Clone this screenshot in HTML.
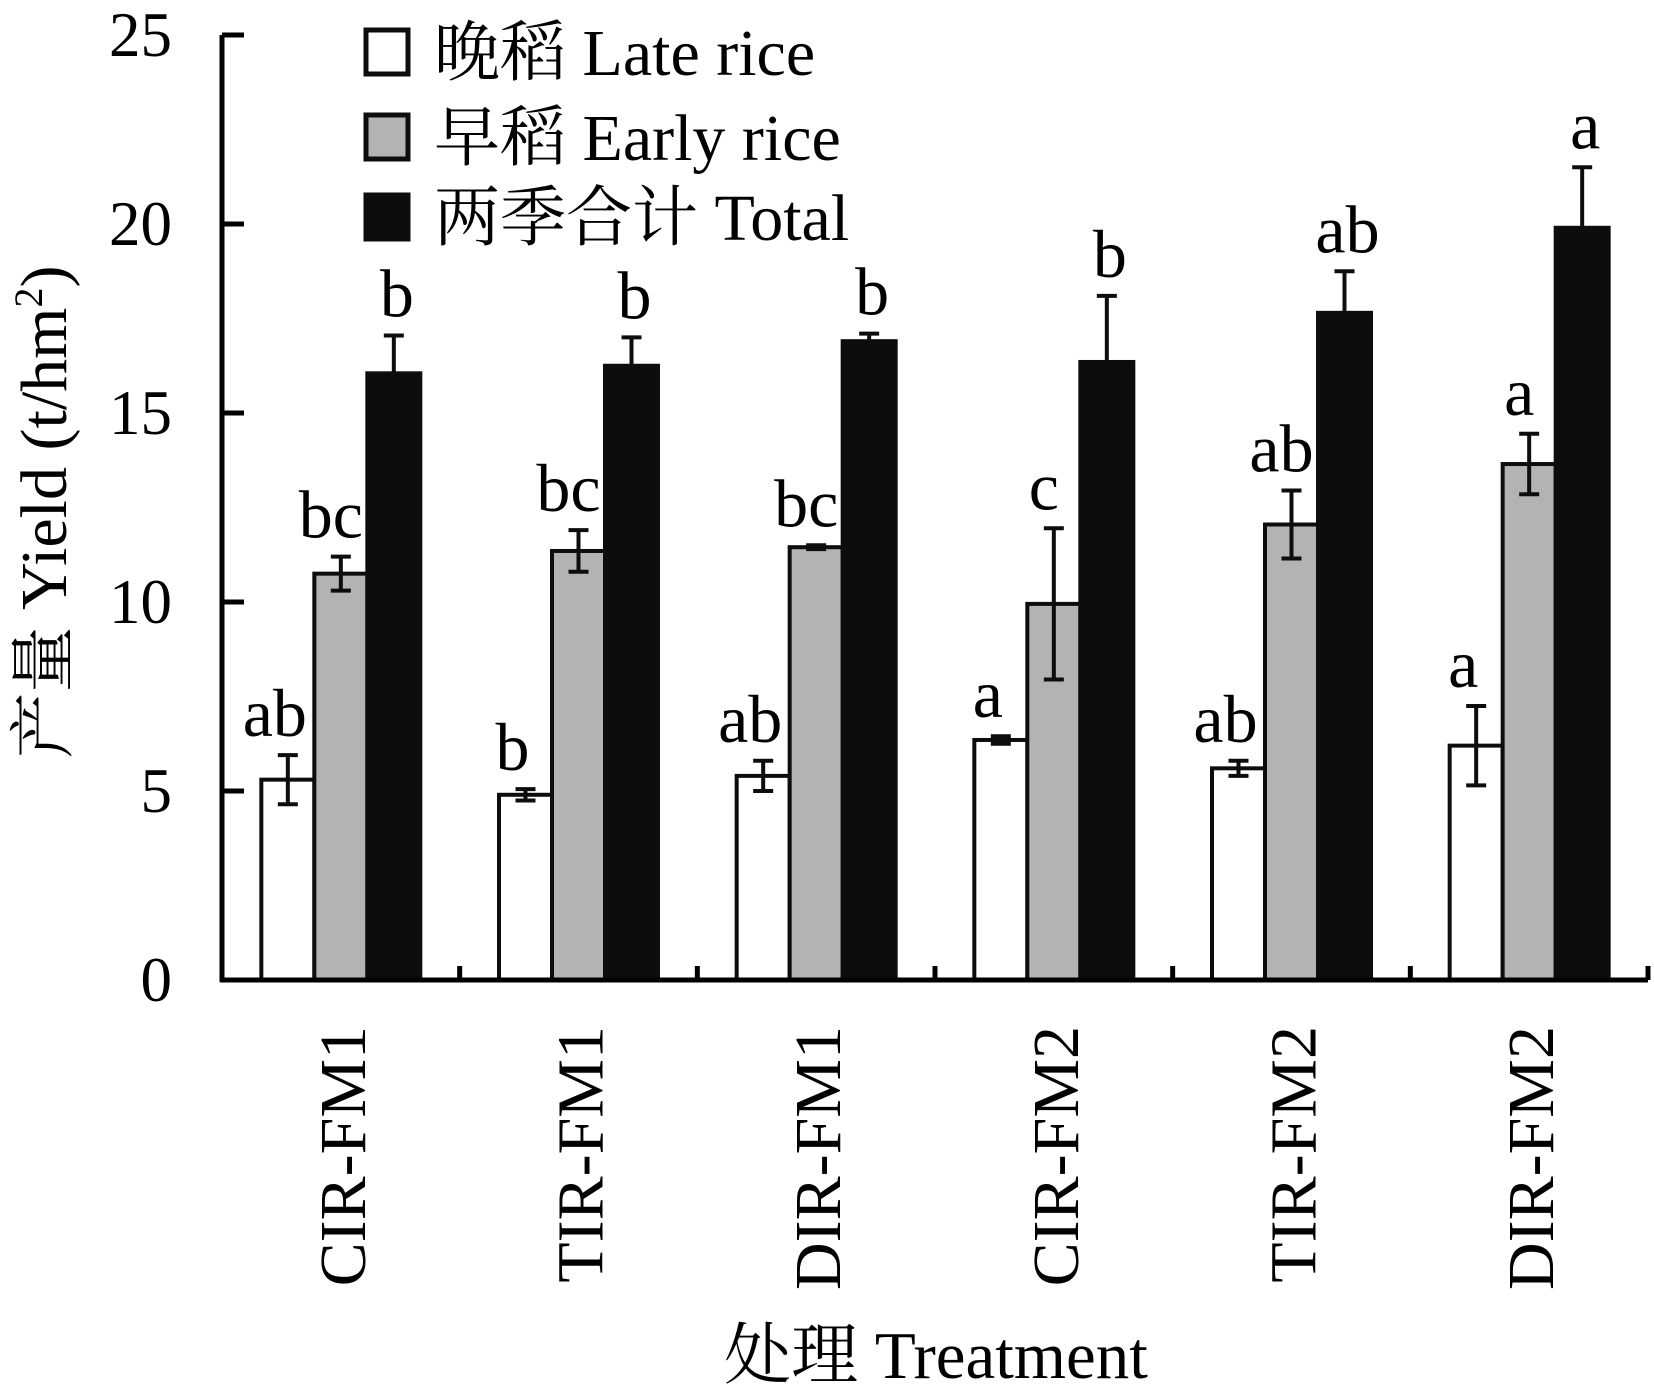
<!DOCTYPE html>
<html><head><meta charset="utf-8"><style>
html,body{margin:0;padding:0;background:#fff;}
svg{display:block;}
text{font-family:"Liberation Serif","Noto Serif CJK SC",serif;fill:#000;}
</style></head><body>
<svg id="chart" width="1654" height="1390" viewBox="0 0 1654 1390" xmlns="http://www.w3.org/2000/svg"></svg>
<script>
const categories = ["CIR-FM1","TIR-FM1","DIR-FM1","CIR-FM2","TIR-FM2","DIR-FM2"];
const lateRice = [5.3,4.9,5.4,6.35,5.6,6.2];
const lateErr = [0.65,0.15,0.4,0.1,0.2,1.05];
const lateLetters = ["ab","b","ab","a","ab","a"];
const earlyRice = [10.75,11.35,11.45,9.95,12.05,13.65];
const earlyErr = [0.45,0.55,0.05,2.0,0.9,0.8];
const earlyLetters = ["bc","bc","bc","c","ab","a"];
const total = [16.05,16.25,16.9,16.35,17.65,19.9];
const totalErr = [1.0,0.75,0.2,1.75,1.1,1.6];
const totalLetters = ["b","b","b","b","ab","a"];
const yTicks = [0,5,10,15,20,25];

const NS="http://www.w3.org/2000/svg";
const svg=document.getElementById('chart');
const X0=222, X1=1648, Y0=980, YTOP=35, YMAX=25;
const groupW=(X1-X0)/categories.length;
const barW=53;
function y(v){return Y0-(v/YMAX)*(Y0-YTOP);}
function gx(i){return X0+groupW*i+(groupW-3*barW)/2;}
function mk(tag,attrs,parent){const e=document.createElementNS(NS,tag);for(const k in attrs)e.setAttribute(k,attrs[k]);(parent||svg).appendChild(e);return e;}

const series=[
 {vals:lateRice,err:lateErr,let:lateLetters,fill:"#ffffff",name:"late-rice",dx:-13},
 {vals:earlyRice,err:earlyErr,let:earlyLetters,fill:"#b3b3b3",name:"early-rice",dx:-10},
 {vals:total,err:totalErr,let:totalLetters,fill:"#0d0d0d",name:"total",dx:3}
];
series.forEach((s,si)=>{
  s.vals.forEach((v,i)=>{
    const x=gx(i)+si*barW;
    const r=mk('rect',{x:x,y:y(v),width:barW,height:Y0-y(v),fill:s.fill,stroke:"#0d0d0d","stroke-width":4});
    
    
    const cx=x+barW/2, top=y(v+s.err[i]), bot=y(v-s.err[i]);
    const g=mk('g',{stroke:"#0d0d0d","stroke-width":4});
    
    
    mk('line',{x1:cx,y1:top,x2:cx,y2:bot},g);
    mk('line',{x1:cx-10,y1:top,x2:cx+10,y2:top},g);
    mk('line',{x1:cx-10,y1:bot,x2:cx+10,y2:bot},g);
    const t=mk('text',{x:cx+s.dx,y:top-19,"text-anchor":"middle","font-size":68});
    t.textContent=s.let[i];
    
    
  });
});

// axes
const ax=mk('g',{stroke:"#000","stroke-width":5});


mk('line',{x1:X0,y1:YTOP,x2:X0,y2:Y0+2},ax);
mk('line',{x1:X0-2,y1:Y0,x2:X1,y2:Y0},ax);
yTicks.forEach(v=>{
  mk('line',{x1:X0,y1:y(v),x2:X0+22,y2:y(v)},ax);
  const t=mk('text',{x:172,y:y(v)+21,"text-anchor":"end","font-size":63});
  t.textContent=v;
  
  
});
for(let i=1;i<=categories.length;i++){
  const xx=X0+groupW*i;
  mk('line',{x1:xx,y1:Y0,x2:xx,y2:Y0-14},ax);
}
categories.forEach((c,i)=>{
  const cx=X0+groupW*(i+0.5)+24;
  const t=mk('text',{x:0,y:0,"text-anchor":"end","font-size":66,transform:`translate(${cx},1026) rotate(-90)`});
  t.textContent=c;
  
  
});

// axis titles
const yt=mk('text',{x:0,y:0,"text-anchor":"middle","font-size":66,transform:"translate(66,512) rotate(-90)"});
yt.innerHTML='产量 Yield (t/hm<tspan dy="-24" font-size="40">2</tspan><tspan dy="24">)</tspan>';


const xt=mk('text',{x:936,y:1378,"text-anchor":"middle","font-size":67});
xt.textContent='处理 Treatment';



// legend
const legendItems=[["晚稻 Late rice","#ffffff",28],["早稻 Early rice","#b3b3b3",113],["两季合计 Total","#0d0d0d",193]];
legendItems.forEach(([label,fill,top])=>{
  const g=mk('g',{});
  
  
  mk('rect',{x:366,y:top+2,width:42,height:44,fill:fill,stroke:"#0d0d0d","stroke-width":5},g);
  const t=mk('text',{x:434,y:top+47,"font-size":66},g);
  t.textContent=label;
});
</script>
</body></html>
